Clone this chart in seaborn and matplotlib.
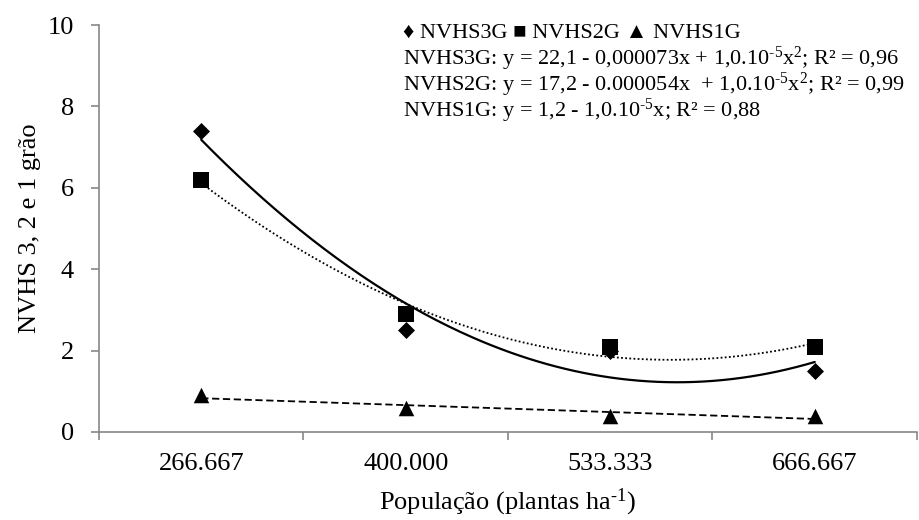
import numpy as np
import pandas as pd
import matplotlib
matplotlib.use("Agg")
import matplotlib.pyplot as plt
from matplotlib.ticker import FixedLocator
import seaborn as sns

# Plant population (plants per hectare) and mean counts per class
populacao = ["266.667", "400.000", "533.333", "666.667"]
nvhs3g = [7.4, 2.5, 2.0, 1.5]
nvhs2g = [6.2, 2.9, 2.1, 2.1]
nvhs1g = [0.9, 0.6, 0.4, 0.4]

legend_lines = [
    "\u2666 NVHS3G \u25a0 NVHS2G \u25b2 NVHS1G",
    r"NVHS3G: y = 22,1 - 0,000073x + 1,0.10$^{\text{-5}}$x$^{2}$; R" "\u00b2 = 0,96",
    r"NVHS2G: y = 17,2 - 0.000054x  + 1,0.10$^{\text{-5}}$x$^{2}$; R" "\u00b2 = 0,99",
    r"NVHS1G: y = 1,2 - 1,0.10$^{\text{-5}}$x; R" "\u00b2 = 0,88",
]

sns.set_theme(style="white")
plt.rcParams["font.family"] = ["Liberation Serif", "DejaVu Sans"]
plt.rcParams["mathtext.fontset"] = "custom"
plt.rcParams["mathtext.rm"] = "Liberation Serif"
plt.rcParams["mathtext.it"] = "Liberation Serif:italic"
plt.rcParams["mathtext.bf"] = "Liberation Serif:bold"

pos = np.arange(len(populacao))
df = pd.DataFrame({"pos": pos, "NVHS3G": nvhs3g, "NVHS2G": nvhs2g, "NVHS1G": nvhs1g})

fig = plt.figure(figsize=(9.2, 5.2), dpi=100)
ax = fig.add_axes([99 / 920, 1 - 432 / 520, (917 - 99) / 920, (432 - 25) / 520])

# (series, marker, marker area, polynomial degree, trend line style, width)
series = [
    ("NVHS3G", "D", 75, 2, "-", 1.6),
    ("NVHS2G", "s", 135, 2, (0, (1, 1.3)), 1.3),
    ("NVHS1G", "^", 125, 1, (0, (4, 2)), 1.3),
]

xs = np.linspace(pos[0], pos[-1], 200)
for name, marker, size, deg, ls, lw in series:
    coef = np.polyfit(df["pos"], df[name], deg)
    sns.lineplot(x=xs, y=np.polyval(coef, xs), ax=ax, color="black",
                 linestyle=ls, linewidth=lw, zorder=2)

for name, marker, size, deg, ls, lw in series:
    sns.scatterplot(data=df, x="pos", y=name, ax=ax, marker=marker, s=size,
                    color="black", edgecolor="black", linewidth=0, zorder=3)

ax.set_xlim(-0.5, len(populacao) - 0.5)
ax.set_ylim(0, 10)
ax.set_yticks(np.arange(0, 11, 2))
ax.set_xticks(pos)
ax.set_xticklabels(populacao)
ax.xaxis.set_minor_locator(FixedLocator(np.arange(-0.5, len(populacao), 1.0)))

spine_color = "#878787"
for side in ["top", "right"]:
    ax.spines[side].set_visible(False)
for side in ["left", "bottom"]:
    ax.spines[side].set_color(spine_color)
    ax.spines[side].set_linewidth(1.2)

ax.tick_params(axis="x", which="major", length=0, pad=15, labelsize=19,
               labelcolor="black")
ax.tick_params(axis="x", which="minor", length=6, width=1.2, color=spine_color,
               direction="out", bottom=True)
ax.tick_params(axis="y", which="major", length=6, width=1.2, color=spine_color,
               direction="out", left=True, pad=12, labelsize=19,
               labelcolor="black")

ax.set_xlabel(r"Popula" "\u00e7\u00e3o" r" (plantas ha$^{\text{-1}}$)", fontsize=19,
              va="center", color="black")
ax.set_ylabel("NVHS 3, 2 e 1 gr\u00e3o", fontsize=19, va="center",
              color="black")
ax.xaxis.set_label_coords(0.5, -(502 - 432) / 407)
ax.yaxis.set_label_coords(-(99 - 30) / 818, 0.5)

for i, line in enumerate(legend_lines):
    fig.text(403 / 920, 1 - (33 + 26 * i) / 520, line, fontsize=16,
             ha="left", va="center", color="black")

fig.savefig("out.png", dpi=100, facecolor="white")
